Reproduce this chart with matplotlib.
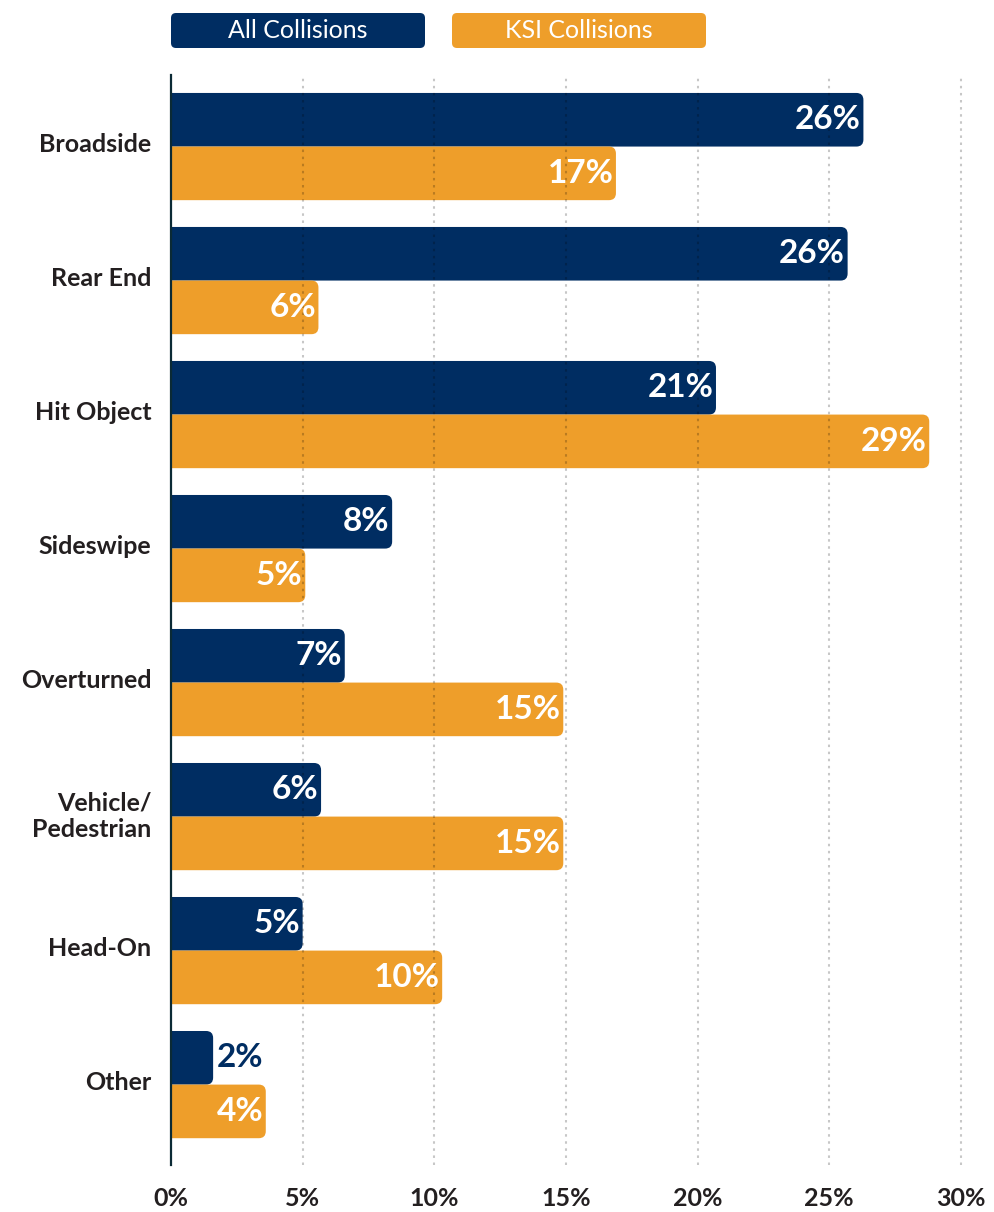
import matplotlib
matplotlib.use("Agg")
import matplotlib.pyplot as plt
from matplotlib.patches import FancyBboxPatch

categories = ["Broadside", "Rear End", "Hit Object", "Sideswipe", "Overturned",
              "Vehicle/\nPedestrian", "Head-On", "Other"]
all_vals = [26.3, 25.7, 20.7, 8.4, 6.6, 5.7, 5.0, 1.6]
ksi_vals = [16.9, 5.6, 28.8, 5.1, 14.9, 14.9, 10.3, 3.6]
xticks = [0, 5, 10, 15, 20, 25, 30]
xtick_labels = ["0%", "5%", "10%", "15%", "20%", "25%", "30%"]
series_names = ["All Collisions", "KSI Collisions"]

NAVY = "#002d62"
ORANGE = "#ee9e2a"
TEXT = "#231f20"
FONT = ["Lato", "DejaVu Sans"]
plt.rcParams["font.family"] = FONT

W, H = 994, 1212
fig = plt.figure(figsize=(W / 100, H / 100), dpi=100)
ax_left, ax_right, ax_top, ax_bot = 171, 994, 75, 1165
ax = fig.add_axes([ax_left / W, 1 - ax_bot / H, (ax_right - ax_left) / W, (ax_bot - ax_top) / H])

xmax = 31.26
ax.set_xlim(0, xmax)
ax.set_ylim(7.6, -0.534)

px_per_x = (ax_right - ax_left) / xmax
px_per_y = (ax_bot - ax_top) / (7.6 + 0.534)
aspect = px_per_x / px_per_y
radius = 7 / px_per_x

bh = 0.4
for i, (a, k) in enumerate(zip(all_vals, ksi_vals)):
    for val, off, col in ((a, -bh / 2, NAVY), (k, bh / 2, ORANGE)):
        y0 = i + off - bh / 2
        p = FancyBboxPatch((-1, y0), val + 1, bh,
                           boxstyle=f"round,pad=0,rounding_size={radius}",
                           mutation_aspect=aspect, fc=col, ec="none", zorder=2)
        ax.add_patch(p)
        lab = f"{round(val):.0f}%"
        if val < 3:
            ax.text(val + 0.15, i + off + 0.0, lab, ha="left", va="center",
                    color=col, fontsize=24, fontweight="bold", zorder=4)
        else:
            ax.text(val - 0.1, i + off + 0.0, lab, ha="right", va="center",
                    color="white", fontsize=24, fontweight="bold", zorder=4)

for xt in xticks[1:]:
    ax.axvline(xt, color="black", alpha=0.22, lw=1.5, ls=(0, (1.2, 2.2)), zorder=3)

for s in ["top", "right", "bottom"]:
    ax.spines[s].set_visible(False)
ax.spines["left"].set_color("#0b2a35")
ax.spines["left"].set_linewidth(1.6)
ax.spines["left"].set_zorder(5)

ax.set_xticks(xticks)
ax.set_xticklabels(xtick_labels, fontsize=18, fontweight="bold", color=TEXT)
ax.set_yticks([i - 0.03 for i in range(len(categories))])
ax.set_yticklabels(categories, fontsize=18, fontweight="bold", color=TEXT, linespacing=1.2)
ax.tick_params(axis="x", length=0, pad=16)
ax.tick_params(axis="y", length=0, pad=14)

# legend boxes
faspect = W / H
for (x0, x1), col, name in (((171, 425), NAVY, series_names[0]), ((452, 706), ORANGE, series_names[1])):
    y_top, y_bot = 13, 48
    p = FancyBboxPatch((x0 / W, 1 - y_bot / H), (x1 - x0) / W, (y_bot - y_top) / H,
                       boxstyle=f"round,pad=0,rounding_size={5 / W}",
                       mutation_aspect=faspect, fc=col, ec="none",
                       transform=fig.transFigure)
    fig.patches.append(p)
    fig.text((x0 + x1) / 2 / W, 1 - (y_top + y_bot) / 2 / H, name, ha="center", va="center",
             color="white", fontsize=18)

fig.savefig("out.png", dpi=100)
